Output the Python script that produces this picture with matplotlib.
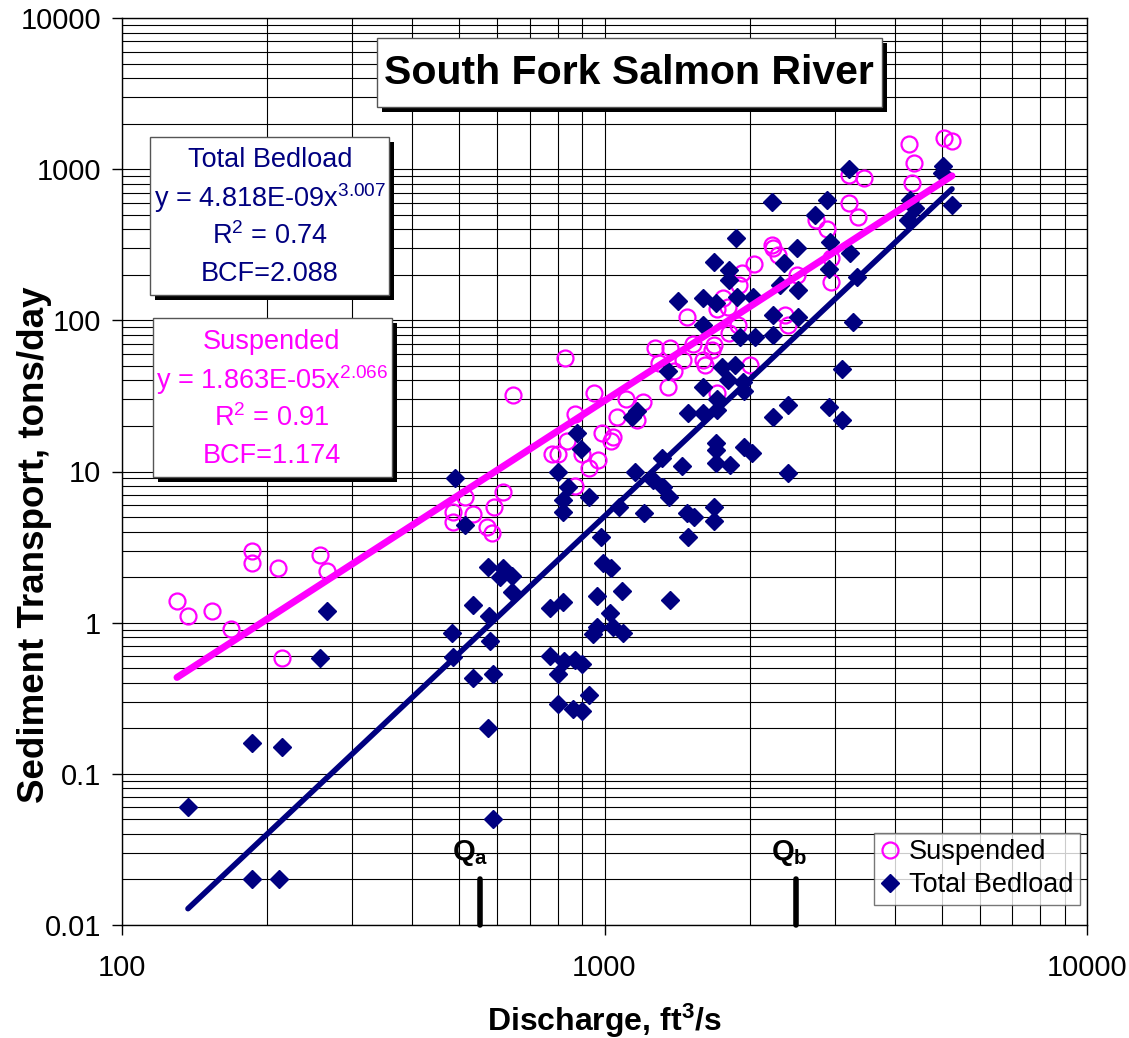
import numpy as np
import matplotlib
matplotlib.use('Agg')
import matplotlib.pyplot as plt
from matplotlib.patches import Rectangle
from matplotlib.ticker import FixedLocator, FuncFormatter, LogLocator, NullFormatter

plt.rcParams['font.family'] = ['Liberation Sans', 'DejaVu Sans']
plt.rcParams['mathtext.fontset'] = 'custom'
plt.rcParams['mathtext.rm'] = 'Liberation Sans'
plt.rcParams['mathtext.bf'] = 'Liberation Sans:bold'
plt.rcParams['mathtext.it'] = 'Liberation Sans:italic'

# ---- data (discharge ft3/s, transport tons/day) ----
sus_q = [130, 137, 154, 168, 186, 186, 211, 215, 257, 266,
         485, 485, 515, 535, 570, 585, 590, 615, 645, 780, 800, 830, 835, 870, 870,
         900, 930, 950, 970, 990, 1030, 1040, 1060, 1110, 1170, 1200,
         1270, 1300, 1355, 1370, 1390, 1455, 1480, 1525, 1600, 1615,
         1670, 1690, 1710, 1710, 1760, 1800, 1810, 1890, 1900, 1930,
         2000, 2040, 2220, 2230, 2290, 2370, 2400, 2500, 2740, 2890, 2950,
         2950, 3210, 3210, 3350, 3450, 4280, 4330, 4380, 5060, 5250]
sus_t = [1.4, 1.1, 1.2, 0.91, 3.0, 2.5, 2.3, 0.58, 2.8, 2.2,
         5.4, 4.6, 6.8, 5.2, 4.3, 3.9, 5.8, 7.3, 32, 13, 13, 56, 16, 8.0, 24,
         13, 10.6, 33, 12, 18, 16, 17, 23, 30, 22, 29,
         66, 52, 36, 66, 46, 55, 105, 70, 55, 51,
         64, 69, 33, 119, 140, 123, 82, 93, 170, 205,
         51, 235, 315, 300, 270, 109, 93, 200, 460, 400, 260,
         180, 920, 600, 480, 875, 1470, 810, 1100, 1610, 1540]

bed_q = [137, 186, 215, 186, 212, 257, 266,
         490, 515, 483, 486, 533, 533, 574, 576, 578, 588, 574, 588, 615, 607, 643, 643,
         770, 820, 770, 825, 870, 900, 800, 800, 860, 900, 930, 966, 1086, 1027, 966,
         948, 1040, 1092, 994, 1033,
         877, 893, 800, 840, 820, 820, 930, 985, 1070, 1140, 1165, 1155, 1210, 1260, 1370,
         1700, 1700, 1700, 1820, 1950, 2020, 2400, 1450, 1315, 1320, 1360, 1480, 1535,
         1690, 1690, 1490,
         1690, 1810, 1810, 2350, 2500, 2310, 2520, 2920, 3230, 3270, 1420, 1600, 1700,
         1880, 2030, 2230, 2230, 2520, 1600, 1910, 2050, 1355, 1750, 1860, 1800, 1940,
         1950, 1600, 1710, 1710, 1600, 1490, 2230, 2400, 2920, 3100, 3100,
         3210, 5030, 5000, 5250, 2220, 2890, 2730, 2930, 3335, 1875, 4300, 4400, 4250]
bed_t = [0.06, 0.16, 0.15, 0.02, 0.02, 0.58, 1.2,
         9.1, 4.4, 0.86, 0.59, 1.3, 0.43, 2.35, 1.1, 0.76, 0.46, 0.2, 0.05, 2.3, 2.0, 2.05, 1.6,
         1.25, 1.36, 0.6, 0.56, 0.57, 0.53, 0.46, 0.29, 0.27, 0.26, 0.33, 1.5, 1.62, 1.15, 0.94,
         0.84, 0.93, 0.86, 2.5, 2.3,
         18, 14, 10, 7.9, 6.5, 5.4, 6.8, 3.7, 5.8, 23, 25, 10, 5.3, 8.8, 1.42,
         15.5, 13.8, 11.4, 11.1, 14.6, 13.3, 9.8, 10.9, 12.3, 7.9, 6.8, 5.3, 5.0,
         5.8, 4.7, 3.7,
         245, 215, 185, 240, 300, 170, 158, 220, 280, 98, 134, 141, 130,
         143, 143, 109, 80, 105, 93, 77, 77, 46, 49, 51, 40, 39,
         34, 36, 30, 25.6, 24.4, 24.4, 23, 27.6, 26.7, 22, 48,
         1000, 1050, 940, 580, 607, 625, 500, 330, 194, 350, 625, 550, 460]

# power-law fits shown on the chart: y = a * x^b
sus_fit = (1.863e-05, 2.066)
bed_fit = (4.818e-09, 3.007)

# discharge markers Qa and Qb
q_marks = [552, 2495]
q_names = ['a', 'b']

MAGENTA = '#FF00FF'
NAVY = '#000080'

W, H = 1129, 1038
fig = plt.figure(figsize=(W / 100, H / 100), dpi=100)
ax = fig.add_axes([122 / W, 1 - 925 / H, 965 / W, 907 / H])


def px(x, y):
    # pixel position (from top-left) -> figure fraction
    return x / W, 1 - y / H


ax.set_xscale('log')
ax.set_yscale('log')
ax.set_xlim(100, 10000)
ax.set_ylim(0.01, 10000)

ax.xaxis.set_major_locator(FixedLocator([100, 1000, 10000]))
ax.yaxis.set_major_locator(FixedLocator([0.01, 0.1, 1, 10, 100, 1000, 10000]))
ax.xaxis.set_minor_locator(LogLocator(base=10, subs=np.arange(2, 10)))
ax.yaxis.set_minor_locator(LogLocator(base=10, subs=np.arange(2, 10)))
ax.xaxis.set_major_formatter(FuncFormatter(lambda v, p: '%g' % v))
ax.yaxis.set_major_formatter(FuncFormatter(lambda v, p: '%g' % v))
ax.xaxis.set_minor_formatter(NullFormatter())
ax.yaxis.set_minor_formatter(NullFormatter())
ax.tick_params(which='major', direction='out', length=7, width=1, labelsize=21, color='black')
ax.tick_params(axis='x', which='major', pad=14)
ax.tick_params(axis='y', which='major', pad=8)
ax.tick_params(which='minor', length=0)
ax.grid(which='both', color='black', linewidth=0.8)
ax.set_axisbelow(True)
for s in ax.spines.values():
    s.set_color('black')
    s.set_linewidth(1)

ax.plot(sus_q, sus_t, linestyle='none', marker='o', ms=11.5, mfc='none', mec=MAGENTA,
        mew=1.6, label='Suspended', zorder=3)
ax.plot(bed_q, bed_t, linestyle='none', marker='D', ms=8.7, mfc=NAVY, mec=NAVY,
        label='Total Bedload', zorder=3)

xs = np.geomspace(min(sus_q), max(sus_q), 50)
ax.plot(xs, sus_fit[0] * xs ** sus_fit[1], color=MAGENTA, lw=5, solid_capstyle='round', zorder=4)
xb = np.geomspace(min(bed_q), max(bed_q), 50)
ax.plot(xb, bed_fit[0] * xb ** bed_fit[1], color=NAVY, lw=4, solid_capstyle='round', zorder=4)

# Qa / Qb markers
for q, n, f in zip(q_marks, q_names, [0.955, 0.97]):
    ax.plot([q, q], [0.01, 0.02], color='black', lw=4, solid_capstyle='round', zorder=5, clip_on=False)
    ax.text(q * f, 0.0268, 'Q$_\\mathbf{%s}$' % n, ha='center', va='baseline', fontsize=21,
            fontweight='bold', zorder=5)

ax.set_xlabel('Discharge, ft$^\\mathbf{3}$/s', fontsize=23, fontweight='bold', labelpad=14)
ax.set_ylabel('Sediment Transport, tons/day', fontsize=26.5, fontweight='bold')
ax.yaxis.set_label_coords((52 - 122) / 965, (925 - 545) / 907)

leg = ax.legend(loc='lower right', bbox_to_anchor=((1080 - 122) / 965, (925 - 905) / 907),
                borderaxespad=0, fontsize=19.5, frameon=True, fancybox=False,
                edgecolor='#555555', handlelength=0.7, handletextpad=0.35,
                borderpad=0.25, labelspacing=0.25, markerscale=1.0)
leg.get_frame().set_linewidth(1)
leg.set_zorder(6)


def shadow_box(x0, y0, x1, y1, off=5):
    # white box with a black drop shadow, in pixel coords
    fx0, fy1 = px(x0, y1)
    fx1, fy0 = px(x1, y0)
    fig.add_artist(Rectangle((fx0 + off / W, fy1 - off / H), fx1 - fx0, fy0 - fy1,
                             transform=fig.transFigure, facecolor='black', edgecolor='none', zorder=5))
    fig.add_artist(Rectangle((fx0, fy1), fx1 - fx0, fy0 - fy1, transform=fig.transFigure,
                             facecolor='white', edgecolor='#555555', lw=1, zorder=6))


# title box
shadow_box(377, 38, 882, 107)
fig.text(*px(629, 73), 'South Fork Salmon River', ha='center', va='center', fontsize=29.5,
         fontweight='bold', zorder=7)

# fit boxes
shadow_box(150, 137, 389, 295)
bed_lines = ['Total Bedload', 'y = 4.818E-09x$^{3.007}$', 'R$^2$ = 0.74', 'BCF=2.088']
for i, t in enumerate(bed_lines):
    fig.text(*px(270, 160 + 38 * i), t, ha='center', va='center', fontsize=19.5, color=NAVY, zorder=7)

shadow_box(153, 318, 392, 477)
sus_lines = ['Suspended', 'y = 1.863E-05x$^{2.066}$', 'R$^2$ = 0.91', 'BCF=1.174']
for i, t in enumerate(sus_lines):
    fig.text(*px(272, 342 + 38 * i), t, ha='center', va='center', fontsize=19.5, color=MAGENTA, zorder=7)

fig.savefig('out.png', dpi=100, facecolor='white')
